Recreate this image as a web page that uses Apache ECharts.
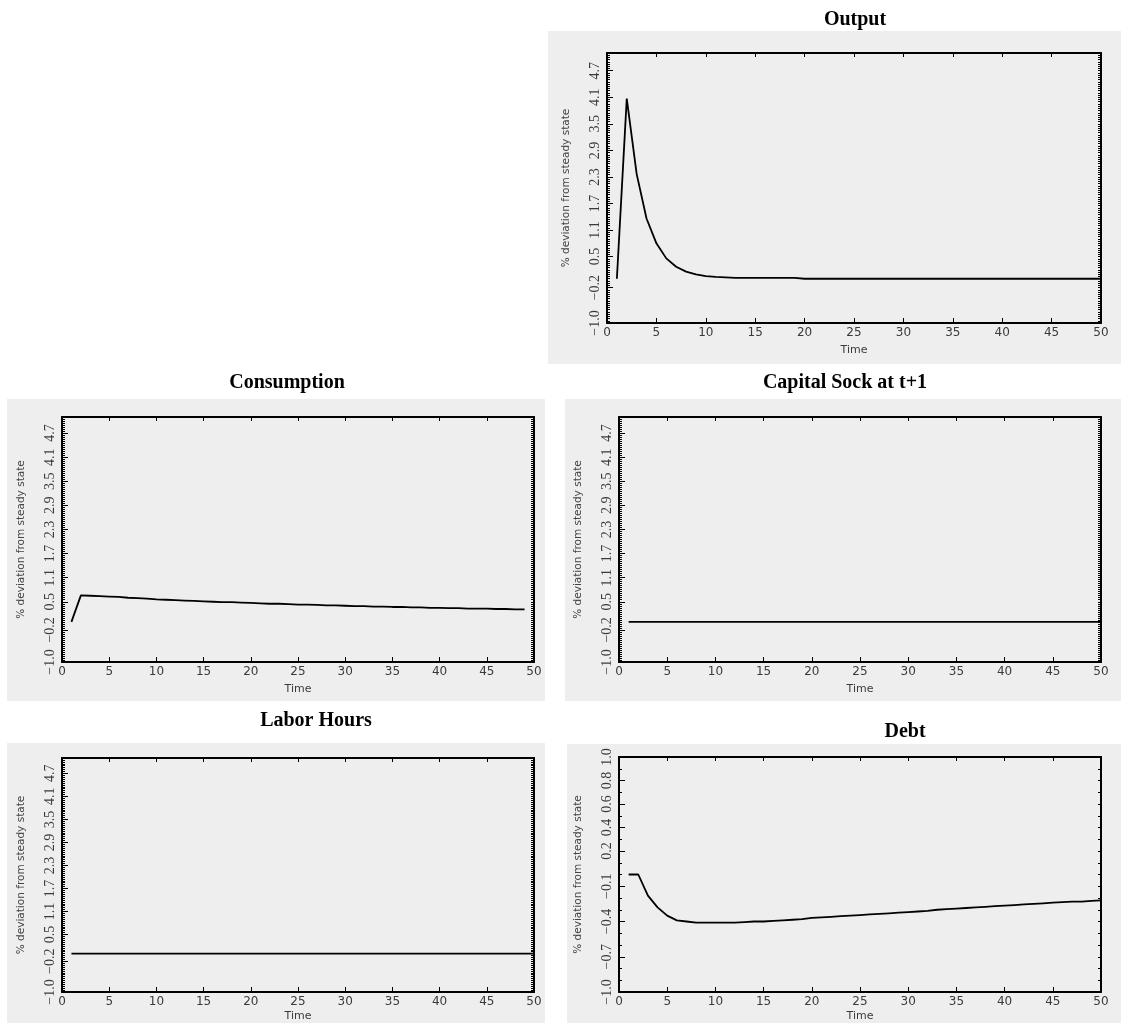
<!DOCTYPE html>
<html>
<head>
<meta charset="utf-8">
<title>Impulse responses</title>
<script src="https://cdn.jsdelivr.net/npm/echarts@6.0.0/dist/echarts.min.js"></script>
<style>
  html, body { margin: 0; padding: 0; background: #ffffff; }
  #chart { width: 1121px; height: 1023px; }
</style>
</head>
<body>
<div id="chart"></div>
<script>
// Periods after the shock
const periods = [1, 2, 3, 4, 5, 6, 7, 8, 9, 10, 11, 12, 13, 14, 15, 16, 17, 18, 19, 20,
  21, 22, 23, 24, 25, 26, 27, 28, 29, 30, 31, 32, 33, 34, 35, 36, 37, 38, 39, 40,
  41, 42, 43, 44, 45, 46, 47, 48, 49, 50];

// % deviation from steady state, one list per variable
const outputDev = [0.00, 4.07, 2.37, 1.36, 0.80, 0.46, 0.27, 0.16, 0.10, 0.06,
  0.04, 0.03, 0.02, 0.02, 0.02, 0.02, 0.02, 0.02, 0.02, 0.00,
  0.00, 0.00, 0.00, 0.00, 0.00, 0.00, 0.00, 0.00, 0.00, 0.00,
  0.00, 0.00, 0.00, 0.00, 0.00, 0.00, 0.00, 0.00, 0.00, 0.00,
  0.00, 0.00, 0.00, 0.00, 0.00, 0.00, 0.00, 0.00, 0.00, 0.00];

const consumptionDev = [0.00, 0.66, 0.65, 0.64, 0.63, 0.62, 0.60, 0.59, 0.58, 0.56,
  0.55, 0.54, 0.53, 0.52, 0.51, 0.50, 0.49, 0.49, 0.48, 0.47,
  0.46, 0.45, 0.45, 0.44, 0.43, 0.43, 0.42, 0.41, 0.41, 0.40,
  0.39, 0.39, 0.38, 0.38, 0.37, 0.37, 0.36, 0.36, 0.35, 0.35,
  0.34, 0.34, 0.33, 0.33, 0.33, 0.32, 0.32, 0.31, 0.31];

const capitalDev = [0, 0, 0, 0, 0, 0, 0, 0, 0, 0, 0, 0, 0, 0, 0, 0, 0, 0, 0, 0,
  0, 0, 0, 0, 0, 0, 0, 0, 0, 0, 0, 0, 0, 0, 0, 0, 0, 0, 0, 0,
  0, 0, 0, 0, 0, 0, 0, 0, 0, 0];

const laborDev = [0, 0, 0, 0, 0, 0, 0, 0, 0, 0, 0, 0, 0, 0, 0, 0, 0, 0, 0, 0,
  0, 0, 0, 0, 0, 0, 0, 0, 0, 0, 0, 0, 0, 0, 0, 0, 0, 0, 0, 0,
  0, 0, 0, 0, 0, 0, 0, 0, 0, 0];

const debtDev = [0.00, 0.00, -0.18, -0.28, -0.35, -0.39, -0.40, -0.41, -0.41, -0.41,
  -0.41, -0.41, -0.405, -0.40, -0.40, -0.395, -0.39, -0.385, -0.38, -0.37,
  -0.365, -0.36, -0.355, -0.35, -0.345, -0.34, -0.335, -0.33, -0.325, -0.32,
  -0.315, -0.31, -0.30, -0.295, -0.29, -0.285, -0.28, -0.275, -0.27, -0.265,
  -0.26, -0.255, -0.25, -0.245, -0.24, -0.235, -0.23, -0.23, -0.225, -0.22];

// Tick labels of the vertical axes
const levelTicks = [-1.0, -0.2, 0.5, 1.1, 1.7, 2.3, 2.9, 3.5, 4.1, 4.7];
const debtTicks = [-1.0, -0.7, -0.4, -0.1, 0.2, 0.4, 0.6, 0.8, 1.0];

// Panel titles
const titles = ['Output', 'Consumption', 'Capital Sock at t+1', 'Labor Hours', 'Debt'];

const yName = '% deviation from steady state';

const scales = {
  level: { min: -1.0, max: 5.1, ticks: levelTicks, minorStep: 0.05 },
  debt:  { min: -1.0, max: 1.0, ticks: debtTicks,  minorStep: 0.1 }
};

// Layout of each panel: gray backdrop, plot box and title anchor
const panels = [
  { title: titles[0], values: outputDev,      scale: 'level', bg: [548, 31, 573, 333], box: [607, 53, 494, 270],  head: [855, 20],  timeGap: 22 },
  { title: titles[1], values: consumptionDev, scale: 'level', bg: [7, 399, 538, 302],  box: [62, 417, 472, 245],  head: [287, 383], timeGap: 22 },
  { title: titles[2], values: capitalDev,     scale: 'level', bg: [565, 399, 556, 302], box: [619, 417, 482, 245], head: [845, 383], timeGap: 22 },
  { title: titles[3], values: laborDev,       scale: 'level', bg: [7, 743, 538, 280],  box: [62, 758, 472, 235],  head: [316, 721], timeGap: 19 },
  { title: titles[4], values: debtDev,        scale: 'debt',  bg: [567, 744, 554, 279], box: [619, 757, 482, 236], head: [905, 732], timeGap: 19 }
];

const ink = '#000000';
const labelInk = '#3a3a3a';

function fmtTick(v) {
  const s = Math.abs(v).toFixed(1);
  return (v < 0 ? '\u2212' : '') + s;
}

const grids = [], xAxes = [], yAxes = [], series = [], graphics = [];

panels.forEach((p, i) => {
  const sc = scales[p.scale];

  graphics.push({
    type: 'rect', z: -10, silent: true,
    shape: { x: p.bg[0], y: p.bg[1], width: p.bg[2], height: p.bg[3] },
    style: { fill: '#eeeeee' }
  });
  graphics.push({
    type: 'text', silent: true,
    x: p.head[0], y: p.head[1],
    style: {
      text: p.title, fill: '#000', align: 'center', verticalAlign: 'middle',
      font: 'bold 20px "Liberation Serif", "Times New Roman", serif'
    }
  });

  grids.push({ left: p.box[0], top: p.box[1], width: p.box[2], height: p.box[3], containLabel: false });

  // bottom time axis with labels
  xAxes.push({
    gridIndex: i, type: 'value', position: 'bottom', min: 0, max: 50, interval: 5,
    name: 'Time', nameLocation: 'middle', nameGap: p.timeGap,
    nameTextStyle: { color: labelInk, fontFamily: 'DejaVu Sans', fontSize: 11 },
    axisLine: { show: true, onZero: false, lineStyle: { color: ink, width: 2 } },
    axisTick: { show: true, inside: true, length: 5, lineStyle: { color: ink, width: 1 } },
    axisLabel: { show: true, margin: 4, color: labelInk, fontFamily: 'DejaVu Sans', fontSize: 12 },
    splitLine: { show: false }
  });
  // top frame edge with ticks
  xAxes.push({
    gridIndex: i, type: 'value', position: 'top', min: 0, max: 50, interval: 5,
    axisLine: { show: true, onZero: false, lineStyle: { color: ink, width: 2 } },
    axisTick: { show: true, inside: true, length: 4, lineStyle: { color: ink, width: 1 } },
    axisLabel: { show: false },
    splitLine: { show: false }
  });

  // left axis: labelled ticks
  yAxes.push({
    gridIndex: i, type: 'value', position: 'left', min: sc.min, max: sc.max,
    name: yName, nameLocation: 'middle', nameGap: 35, nameRotate: 90,
    nameTextStyle: { color: '#444', fontFamily: 'DejaVu Sans', fontSize: 10.5 },
    axisLine: { show: true, onZero: false, lineStyle: { color: ink, width: 2 } },
    axisTick: { show: true, inside: true, length: 6, customValues: sc.ticks, lineStyle: { color: ink, width: 1 } },
    axisLabel: {
      show: true, customValues: sc.ticks, rotate: 90, margin: 5,
      color: labelInk, fontFamily: 'Liberation Serif', fontSize: 14,
      formatter: fmtTick
    },
    splitLine: { show: false }
  });
  // left axis: fine ticks
  yAxes.push({
    gridIndex: i, type: 'value', position: 'left', min: sc.min, max: sc.max, interval: sc.minorStep,
    axisLine: { show: false },
    axisTick: { show: true, inside: true, length: 3, lineStyle: { color: ink, width: 1 } },
    axisLabel: { show: false },
    splitLine: { show: false }
  });
  // right frame edge with fine ticks
  yAxes.push({
    gridIndex: i, type: 'value', position: 'right', min: sc.min, max: sc.max, interval: sc.minorStep,
    axisLine: { show: true, onZero: false, lineStyle: { color: ink, width: 2 } },
    axisTick: { show: true, inside: true, length: 3, lineStyle: { color: ink, width: 1 } },
    axisLabel: { show: false },
    splitLine: { show: false }
  });

  series.push({
    type: 'line', name: p.title,
    xAxisIndex: i * 2, yAxisIndex: i * 3,
    data: p.values.map((v, k) => [periods[k], v]),
    showSymbol: false, symbol: 'none',
    lineStyle: { color: ink, width: 1.8 },
    silent: true, clip: true
  });
});

const chart = echarts.init(document.getElementById('chart'), null, { renderer: 'canvas' });
chart.setOption({
  animation: false,
  backgroundColor: '#ffffff',
  grid: grids,
  xAxis: xAxes,
  yAxis: yAxes,
  series: series,
  graphic: { elements: graphics }
});
</script>
</body>
</html>
